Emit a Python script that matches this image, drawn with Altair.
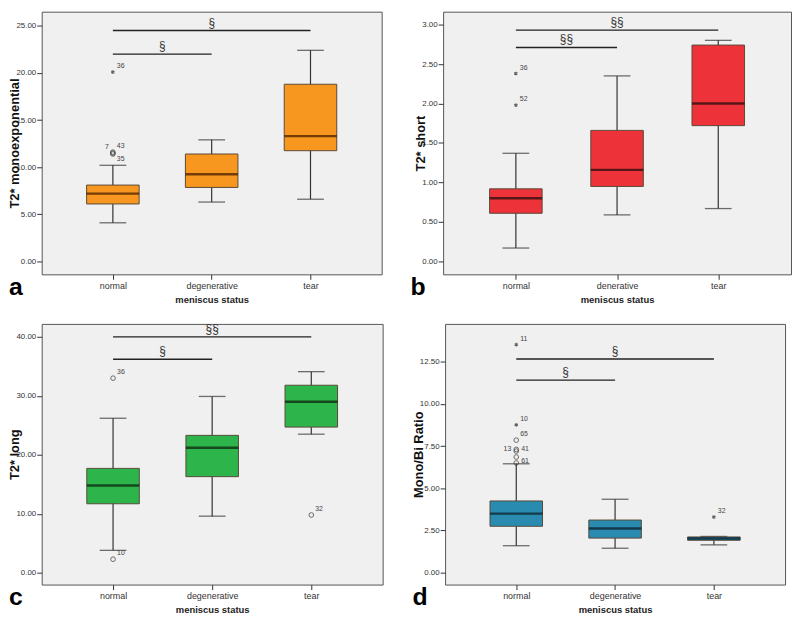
import altair as alt
import pandas as pd

FONT = "Liberation Sans"

# ---------------- data ----------------
CATS_ACD = ["normal", "degenerative", "tear"]
CATS_B = ["normal", "denerative", "tear"]

# panel a: T2* monoexponential
a_low = [4.1, 6.3, 6.6]
a_q1 = [6.1, 7.85, 11.75]
a_med = [7.2, 9.25, 13.3]
a_q3 = [8.1, 11.4, 18.8]
a_high = [10.2, 12.9, 22.4]
a_out_cat = [0, 0, 0, 0]
a_out_val = [20.1, 11.6, 11.4, 11.5]
a_out_kind = ["star", "circle", "circle", "circle"]
a_out_label = ["36", "43", "35", "7"]
a_sig_from = [0, 0]
a_sig_to = [2, 1]
a_sig_y = [24.5, 22.0]
a_sig_text = ["§", "§"]

# panel b: T2* short
b_low = [0.17, 0.59, 0.67]
b_q1 = [0.61, 0.95, 1.72]
b_med = [0.80, 1.16, 2.00]
b_q3 = [0.92, 1.66, 2.74]
b_high = [1.37, 2.35, 2.80]
b_out_cat = [0, 0]
b_out_val = [2.38, 1.98]
b_out_kind = ["star", "star"]
b_out_label = ["36", "52"]
b_sig_from = [0, 0]
b_sig_to = [2, 1]
b_sig_y = [2.93, 2.71]
b_sig_text = ["§§", "§§"]

# panel c: T2* long
c_low = [3.8, 9.6, 23.5]
c_q1 = [11.7, 16.3, 24.7]
c_med = [14.8, 21.2, 29.0]
c_q3 = [17.7, 23.3, 31.8]
c_high = [26.2, 29.9, 34.1]
c_out_cat = [0, 0, 2]
c_out_val = [33.0, 2.3, 9.8]
c_out_kind = ["circle", "circle", "circle"]
c_out_label = ["36", "10", "32"]
c_sig_from = [0, 0]
c_sig_to = [2, 1]
c_sig_y = [40.0, 36.2]
c_sig_text = ["§§", "§"]

# panel d: Mono/Bi Ratio
d_low = [1.6, 1.45, 1.65]
d_q1 = [2.75, 2.05, 1.92]
d_med = [3.5, 2.62, 2.03]
d_q3 = [4.25, 3.12, 2.12]
d_high = [6.45, 4.35, 2.15]
d_out_cat = [0, 0, 0, 0, 0, 0, 0, 2]
d_out_val = [13.5, 8.75, 7.85, 7.3, 7.2, 6.85, 6.5, 3.3]
d_out_kind = ["star", "star", "circle", "circle", "circle", "circle", "circle", "star"]
d_out_label = ["11", "10", "65", "13", "41", "", "61", "32"]
d_sig_from = [0, 0]
d_sig_to = [2, 1]
d_sig_y = [12.65, 11.4]
d_sig_text = ["§", "§"]

# label placement (style): default upper-right
PLACE = {
    ("a", "7"): "ul", ("a", "35"): "lr",
    ("d", "13"): "l", ("d", "41"): "r", ("d", "61"): "r", ("d", "65"): "ur",
}
OFFS = {"ur": (4, -6, "left"), "ul": (-4, -6, "right"), "lr": (4, 5, "left"),
        "l": (-5, 0, "right"), "r": (5, -2, "left")}

STAR = "M0,-1L0,1M-0.87,-0.5L0.87,0.5M-0.87,0.5L0.87,-0.5"
LABEL_GREY = "#444444"


def panel(key, cats, low, q1, med, q3, high, ocat, oval, okind, olab,
          sfrom, sto, sy, stext, title, domain, ticks, color, median_color,
          width, height):
    box = pd.DataFrame({"pos": [0, 1, 2], "low": low, "q1": q1, "med": med,
                        "q3": q3, "high": high})
    out = pd.DataFrame({"pos": ocat, "val": oval, "kind": okind, "label": olab})
    out["place"] = [PLACE.get((key, l), "ur") for l in olab]
    sig = pd.DataFrame({"a": sfrom, "b": sto, "y": sy, "t": stext})

    label_expr = "[" + ",".join(f"'{c}'" for c in cats) + "][datum.value]"
    xs = alt.Scale(domain=[-0.67, 2.67], nice=False, zero=False)
    ys = alt.Scale(domain=domain, nice=False, zero=False)
    xaxis = alt.Axis(values=[0, 1, 2], labelExpr=label_expr, title="meniscus status",
                     grid=False, domain=False, tickSize=5, tickColor="#333",
                     labelFontSize=9, labelColor="#333", labelFont=FONT,
                     titleFont=FONT, titleFontSize=9.5, titleFontWeight="bold",
                     titleColor="#222", titlePadding=4, labelPadding=2)
    yaxis = alt.Axis(values=ticks, format=".2f", title=title, grid=False,
                     domain=False, tickSize=5, tickColor="#333", labelFontSize=8,
                     labelColor="#333", labelFont=FONT, titleFont=FONT,
                     titleFontSize=13, titleFontWeight="bold", titleColor="#111",
                     titlePadding=-6, labelPadding=1)

    base = alt.Chart(box)
    whisk = base.mark_rule(color="#333", strokeWidth=1.2).encode(
        x=alt.X("pos:Q", scale=xs, axis=xaxis), y=alt.Y("low:Q", scale=ys, axis=yaxis),
        y2="high:Q")
    caps_lo = base.mark_tick(orient="horizontal", size=27, thickness=1.3, color="#333").encode(
        x=alt.X("pos:Q", scale=xs), y=alt.Y("low:Q", scale=ys))
    caps_hi = base.mark_tick(orient="horizontal", size=27, thickness=1.3, color="#333").encode(
        x=alt.X("pos:Q", scale=xs), y=alt.Y("high:Q", scale=ys))
    bars = base.mark_bar(orient="vertical", size=53, color=color, stroke="#5a4a3a",
                         strokeWidth=1).encode(
        x=alt.X("pos:Q", scale=xs), y=alt.Y("q1:Q", scale=ys), y2="q3:Q")
    meds = base.mark_tick(orient="horizontal", size=53, thickness=2.4,
                          color=median_color).encode(
        x=alt.X("pos:Q", scale=xs), y=alt.Y("med:Q", scale=ys))

    ob = alt.Chart(out)
    circles = ob.transform_filter("datum.kind == 'circle'").mark_point(
        shape="circle", filled=False, size=22, color="#333", strokeWidth=1).encode(
        x=alt.X("pos:Q", scale=xs), y=alt.Y("val:Q", scale=ys))
    stars = ob.transform_filter("datum.kind == 'star'").mark_point(
        shape=STAR, filled=False, size=14, color="#222", strokeWidth=1.1).encode(
        x=alt.X("pos:Q", scale=xs), y=alt.Y("val:Q", scale=ys))
    layers = [whisk, caps_lo, caps_hi, bars, meds, circles, stars]
    for p, (dx, dy, al) in OFFS.items():
        layers.append(
            ob.transform_filter(f"datum.place == '{p}'").mark_text(
                dx=dx, dy=dy, align=al, fontSize=7, font=FONT, fill=LABEL_GREY).encode(
                x=alt.X("pos:Q", scale=xs), y=alt.Y("val:Q", scale=ys), text="label:N"))

    sb = alt.Chart(sig)
    lines = sb.mark_rule(color="#222", strokeWidth=1.4).encode(
        x=alt.X("a:Q", scale=xs), x2="b:Q", y=alt.Y("y:Q", scale=ys))
    stx = sb.transform_calculate(m="(datum.a + datum.b) / 2").mark_text(
        dy=-8, fontSize=12, font=FONT, fill="#333").encode(
        x=alt.X("m:Q", scale=xs), y=alt.Y("y:Q", scale=ys), text="t:N")
    letter = alt.Chart(alt.Data(values=[{}])).mark_text(
        text=key, fontSize=25, fontWeight="bold", font=FONT, align="left",
        baseline="alphabetic", fill="#000").encode(
        x=alt.value(-33), y=alt.value(height + 21))
    layers += [lines, stx, letter]
    return alt.layer(*layers).properties(width=width, height=height)


pa = panel("a", CATS_ACD, a_low, a_q1, a_med, a_q3, a_high, a_out_cat, a_out_val,
           a_out_kind, a_out_label, a_sig_from, a_sig_to, a_sig_y, a_sig_text,
           "T2* monoexponential", [-1.37, 26.5], [0, 5, 10, 15, 20, 25],
           "#F7971F", "#3a1500", 343, 265)
pb = panel("b", CATS_B, b_low, b_q1, b_med, b_q3, b_high, b_out_cat, b_out_val,
           b_out_kind, b_out_label, b_sig_from, b_sig_to, b_sig_y, b_sig_text,
           "T2* short", [-0.163, 3.163], [0, 0.5, 1, 1.5, 2, 2.5, 3],
           "#EE3239", "#1a0a0a", 351, 265)
pc = panel("c", CATS_ACD, c_low, c_q1, c_med, c_q3, c_high, c_out_cat, c_out_val,
           c_out_kind, c_out_label, c_sig_from, c_sig_to, c_sig_y, c_sig_text,
           "T2* long", [-2.0, 42.2], [0, 10, 20, 30, 40],
           "#2DB44B", "#0a1a0a", 344, 263)
pd_ = panel("d", CATS_ACD, d_low, d_q1, d_med, d_q3, d_high, d_out_cat, d_out_val,
            d_out_kind, d_out_label, d_sig_from, d_sig_to, d_sig_y, d_sig_text,
            "Mono/Bi Ratio", [-0.70, 14.73], [0, 2.5, 5, 7.5, 10, 12.5],
            "#2A8BB0", "#0a1a22", 343, 263)

chart = alt.vconcat(
    alt.hconcat(pa, pb, spacing=27),
    alt.hconcat(pc, pd_, spacing=28),
    spacing=18,
).properties(padding=0).configure_view(fill="#F0F0F0", stroke="#555", strokeWidth=1)

chart.save("out.html", embed_options={"renderer": "svg", "actions": False})
